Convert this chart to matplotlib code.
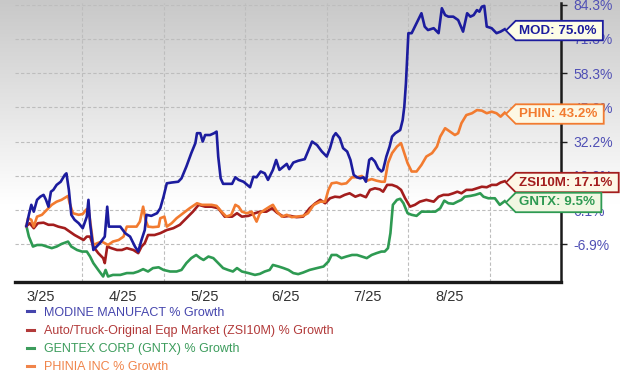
import numpy as np
import matplotlib
matplotlib.use('Agg')
import matplotlib.pyplot as plt
from matplotlib.path import Path
from matplotlib.lines import Line2D

plt.rcParams['font.family'] = ['Liberation Sans', 'DejaVu Sans']

# x is a month position: 4.0 = start of April 2025, 9.0 = start of September
mod_x = [3.32, 3.35, 3.38, 3.41, 3.45, 3.49, 3.53, 3.56, 3.59, 3.62,
         3.65, 3.69, 3.74, 3.79, 3.81, 3.84, 3.87, 3.91, 3.96, 4.01,
         4.06, 4.08, 4.10, 4.14, 4.18, 4.22, 4.28, 4.31, 4.33, 4.38,
         4.47, 4.53, 4.59, 4.65, 4.69, 4.73, 4.77, 4.79, 4.85, 4.92,
         4.96, 5.00, 5.04, 5.10, 5.18, 5.22, 5.28, 5.34, 5.39, 5.41,
         5.45, 5.48, 5.51, 5.57, 5.62, 5.65, 5.67, 5.70, 5.73, 5.84,
         5.88, 5.92, 5.98, 6.06, 6.10, 6.14, 6.19, 6.24, 6.28, 6.34,
         6.38, 6.42, 6.47, 6.51, 6.54, 6.59, 6.65, 6.73, 6.82, 6.88,
         6.94, 7.00, 7.04, 7.08, 7.11, 7.16, 7.20, 7.25, 7.29, 7.33,
         7.37, 7.41, 7.45, 7.48, 7.52, 7.55, 7.59, 7.63, 7.67, 7.69,
         7.73, 7.77, 7.80, 7.84, 7.90, 7.93, 7.95, 7.97, 8.00, 8.04,
         8.10, 8.16, 8.20, 8.24, 8.31, 8.37, 8.41, 8.45, 8.49, 8.55,
         8.61, 8.67, 8.72, 8.76, 8.80, 8.84, 8.87, 8.90, 8.93, 8.96,
         9.02, 9.08, 9.13, 9.18]
mod_y = [0.0, 4.3, 8.1, 5.5, 10.0, 11.2, 11.9, 10.0, 7.4, 13.1,
         13.8, 15.7, 16.9, 19.5, 20.1, 13.8, 4.3, 2.4, 1.1, -0.8,
         3.6, 10.0, 1.1, -9.1, -7.8, -6.5, -4.0, 7.4, -0.2, -0.2,
         -0.2, -2.7, -4.0, -7.8, -9.7, -5.3, -1.5, 4.3, 3.9, 4.9,
         6.8, 11.2, 16.3, 16.6, 16.9, 18.2, 22.7, 27.8, 31.6, 35.4,
         35.4, 32.2, 34.7, 34.7, 35.4, 36.0, 26.5, 18.2, 16.1, 16.1,
         18.6, 17.6, 16.9, 14.8, 18.8, 18.6, 20.8, 20.1, 17.6, 21.4,
         25.2, 21.4, 22.7, 23.7, 21.7, 24.2, 24.9, 25.5, 32.2, 30.9,
         28.4, 26.5, 29.7, 34.1, 35.4, 33.5, 29.7, 28.4, 25.2, 19.5,
         18.6, 18.2, 18.6, 16.9, 25.2, 25.9, 24.6, 22.0, 20.8, 21.4,
         26.5, 30.3, 34.1, 35.4, 36.6, 40.4, 45.5, 54.4, 73.5, 73.5,
         77.3, 81.1, 76.0, 74.7, 75.4, 73.5, 83.0, 80.4, 79.8, 79.8,
         78.5, 74.1, 81.1, 79.8, 80.4, 82.3, 81.7, 83.6, 83.9, 76.0,
         75.4, 73.5, 74.1, 75.0]

phin_x = [3.32, 3.34, 3.38, 3.41, 3.45, 3.51, 3.57, 3.63, 3.69, 3.75,
          3.83, 3.85, 3.89, 3.96, 4.01, 4.05, 4.08, 4.11, 4.14, 4.19,
          4.24, 4.28, 4.32, 4.38, 4.45, 4.51, 4.55, 4.61, 4.67, 4.71,
          4.75, 4.78, 4.81, 4.87, 4.94, 4.96, 5.01, 5.04, 5.10, 5.16,
          5.24, 5.32, 5.41, 5.47, 5.59, 5.65, 5.71, 5.77, 5.83, 5.88,
          5.92, 5.96, 6.02, 6.08, 6.14, 6.18, 6.24, 6.30, 6.34, 6.39,
          6.45, 6.51, 6.57, 6.63, 6.71, 6.77, 6.84, 6.92, 6.98, 7.02,
          7.06, 7.12, 7.18, 7.24, 7.31, 7.37, 7.43, 7.49, 7.55, 7.61,
          7.67, 7.71, 7.75, 7.80, 7.86, 7.91, 7.95, 7.99, 8.04, 8.10,
          8.16, 8.22, 8.29, 8.35, 8.39, 8.45, 8.51, 8.57, 8.61, 8.65,
          8.71, 8.78, 8.84, 8.90, 8.96, 9.02, 9.08, 9.13, 9.18]
phin_y = [0.0, 3.0, 2.4, -0.2, 3.6, 4.3, 6.2, 8.1, 9.3, 10.0,
          11.5, 8.7, 4.9, 4.3, 4.6, 6.2, 6.8, -0.2, -7.2, -6.5,
          -5.9, -6.5, -7.2, -5.9, -5.3, -4.0, -0.2, -0.2, -0.2, 1.7,
          7.4, 2.4, -0.2, -0.4, -0.2, 3.0, 3.6, -0.2, 1.1, 3.0,
          4.9, 6.8, 8.7, 8.1, 8.1, 7.7, 5.5, 3.6, 4.3, 8.1,
          7.4, 5.5, 4.9, 5.5, 1.7, 4.9, 6.2, 7.4, 8.1, 5.5,
          3.6, 4.3, 3.4, 3.6, 3.9, 4.9, 8.1, 9.3, 9.3, 13.8,
          16.3, 16.6, 16.0, 16.3, 18.6, 18.6, 19.1, 17.3, 17.9, 17.3,
          16.9, 16.9, 24.0, 27.8, 30.3, 31.6, 27.8, 24.0, 20.8, 20.8,
          23.3, 26.5, 27.8, 30.3, 34.1, 37.3, 36.0, 34.7, 35.4, 39.2,
          42.3, 43.0, 44.2, 44.0, 43.0, 43.6, 43.0, 41.7, 43.2]

zsi_x = [3.32, 3.36, 3.41, 3.46, 3.53, 3.59, 3.65, 3.71, 3.79, 3.85,
         3.91, 3.98, 4.02, 4.06, 4.10, 4.14, 4.20, 4.26, 4.28, 4.31,
         4.36, 4.43, 4.49, 4.55, 4.63, 4.69, 4.73, 4.77, 4.81, 4.89,
         4.96, 5.04, 5.12, 5.20, 5.28, 5.36, 5.43, 5.51, 5.59, 5.67,
         5.75, 5.84, 5.90, 5.96, 6.04, 6.12, 6.18, 6.26, 6.33, 6.39,
         6.47, 6.55, 6.63, 6.71, 6.79, 6.86, 6.92, 6.98, 7.04, 7.10,
         7.16, 7.22, 7.28, 7.35, 7.41, 7.48, 7.53, 7.59, 7.65, 7.69,
         7.74, 7.80, 7.86, 7.91, 7.96, 8.02, 8.08, 8.14, 8.22, 8.31,
         8.37, 8.43, 8.49, 8.55, 8.60, 8.65, 8.71, 8.78, 8.84, 8.90,
         8.96, 9.02, 9.08, 9.13, 9.18]
zsi_y = [0.0, 1.1, -0.8, 1.1, 1.3, 0.5, 0.5, -0.2, -0.8, -2.1,
         -3.4, -4.6, -5.3, -4.0, -4.0, -7.8, -10.3, -12.2, -14.1, -7.8,
         -8.4, -9.1, -9.1, -8.4, -9.1, -10.3, -7.8, -6.5, -3.4, -3.4,
         -2.7, -1.5, -0.8, 0.5, 3.0, 5.5, 8.1, 7.4, 7.4, 6.8,
         3.6, 3.6, 4.9, 3.6, 3.9, 4.9, 5.5, 5.5, 6.8, 5.1,
         3.6, 3.9, 3.4, 3.6, 6.8, 8.7, 10.0, 8.7, 10.6, 11.2,
         11.0, 11.9, 12.5, 11.2, 11.9, 11.0, 13.8, 14.4, 14.0, 13.1,
         15.7, 15.7, 15.0, 13.8, 10.6, 7.4, 8.1, 9.3, 10.0, 9.3,
         11.2, 11.9, 11.9, 12.5, 13.1, 12.5, 13.8, 13.8, 14.4, 15.0,
         14.8, 15.7, 15.7, 16.6, 17.1]

gntx_x = [3.32, 3.35, 3.40, 3.45, 3.51, 3.57, 3.63, 3.69, 3.75, 3.83,
          3.87, 3.94, 4.00, 4.06, 4.10, 4.14, 4.20, 4.26, 4.29, 4.32,
          4.38, 4.47, 4.55, 4.63, 4.69, 4.75, 4.81, 4.87, 4.94, 5.00,
          5.08, 5.16, 5.22, 5.28, 5.34, 5.40, 5.45, 5.49, 5.55, 5.61,
          5.67, 5.73, 5.79, 5.85, 5.90, 5.96, 6.04, 6.12, 6.18, 6.24,
          6.30, 6.34, 6.41, 6.47, 6.53, 6.59, 6.65, 6.71, 6.79, 6.88,
          6.96, 7.02, 7.06, 7.12, 7.18, 7.24, 7.31, 7.37, 7.43, 7.49,
          7.55, 7.61, 7.67, 7.71, 7.75, 7.78, 7.81, 7.86, 7.90, 7.94,
          7.99, 8.04, 8.10, 8.16, 8.24, 8.33, 8.39, 8.44, 8.49, 8.55,
          8.60, 8.65, 8.69, 8.76, 8.82, 8.88, 8.92, 8.98, 9.06, 9.12,
          9.18]
gntx_y = [0.0, -4.0, -7.8, -7.2, -7.2, -7.8, -8.4, -7.8, -6.8, -5.9,
          -7.8, -9.1, -9.7, -9.7, -11.6, -14.1, -16.7, -19.2, -16.7, -19.2,
          -18.6, -18.6, -17.9, -17.9, -17.3, -16.4, -17.3, -16.0, -15.7, -16.7,
          -17.3, -17.3, -16.7, -14.1, -12.2, -11.0, -12.2, -12.9, -11.6, -12.2,
          -14.1, -16.0, -16.7, -17.3, -16.0, -17.3, -17.9, -18.6, -18.2, -17.3,
          -16.7, -14.8, -15.4, -16.0, -16.7, -17.9, -18.3, -17.7, -16.7, -16.0,
          -15.4, -13.5, -11.0, -11.0, -12.2, -11.6, -11.0, -11.0, -11.6, -12.2,
          -11.0, -10.3, -9.7, -9.7, -8.4, -2.7, 8.1, 10.0, 10.4, 8.7,
          4.9, 4.3, 3.9, 5.5, 5.5, 5.5, 6.8, 9.7, 8.7, 8.5,
          9.3, 10.0, 11.2, 11.5, 11.9, 12.5, 11.2, 10.6, 10.6, 8.1,
          9.5]

y_ticks = [-6.9, 6.1, 19.2, 32.2, 45.2, 58.3, 71.3, 84.3]
month_edges = [4, 5, 6, 7, 8, 9]
month_mids = [3.5, 4.5, 5.5, 6.5, 7.5, 8.5]
month_labels = ['3/25', '4/25', '5/25', '6/25', '7/25', '8/25']

legend_labels = ['MODINE MANUFACT % Growth',
                 'Auto/Truck-Original Eqp Market (ZSI10M) % Growth',
                 'GENTEX CORP (GNTX) % Growth',
                 'PHINIA INC % Growth']
tags = ['MOD: 75.0%', 'ZSI10M: 17.1%', 'GNTX: 9.5%', 'PHIN: 43.2%']
last_vals = [75.0, 17.1, 9.5, 43.2]

c_mod, c_zsi, c_gntx, c_phin = '#1c1c9e', '#a31d1d', '#2e9a52', '#f27b30'
colors = [c_mod, c_zsi, c_gntx, c_phin]
legend_colors = ['#4545ad', '#b23a3a', '#3c9c5c', '#f0844a']
tag_fill = ['#fdfde6', '#fdf7e6', '#f1f7e2', '#fdf8e4']


def tag_box(x0, y0, width, height, mutation_size):
    # callout box with a pointed left edge
    pad = mutation_size * 0.28
    x0, y0 = x0 - pad, y0 - pad
    x1, y1 = x0 + width + 2.6 * pad, y0 + height + 2 * pad
    tip = (y1 - y0) / 2
    return Path([(x0, y0), (x1, y0), (x1, y1), (x0, y1),
                 (x0 - tip, (y0 + y1) / 2), (x0, y0)], closed=True)


fig = plt.figure(figsize=(6.2, 3.75), dpi=100)

# grey-to-white backdrop
bg = fig.add_axes([0, 0, 1, 1], zorder=-5)
grad = np.clip(np.linspace(0.785, 1.18, 256), 0, 1)
bg.imshow(np.repeat(grad[:, None, None], 3, axis=2),
          aspect='auto', extent=[0, 1, 0, 1], origin='upper')
bg.axis('off')

ax = fig.add_axes([15 / 620, 1 - 282 / 375, 546 / 620, 279 / 375])
ax.set_facecolor('none')

ax.plot(gntx_x, gntx_y, color=c_gntx, lw=1.9, zorder=3)
ax.plot(zsi_x, zsi_y, color=c_zsi, lw=1.9, zorder=3)
ax.plot(phin_x, phin_y, color=c_phin, lw=1.9, zorder=3)
ax.plot(mod_x, mod_y, color=c_mod, lw=1.9, zorder=4)

ax.set_xlim(3.18, 9.87)
ax.set_ylim(-21.3, 85.0)

ax.yaxis.tick_right()
ax.set_yticks(y_ticks)
ax.set_yticklabels([f'{v:.1f}%' for v in y_ticks])
ax.tick_params(axis='y', colors='#202020', labelcolor='#5050b5',
               labelsize=10, length=4, width=1, pad=5)

ax.set_xticks(month_edges)
ax.set_xticklabels([])
ax.set_xticks(month_mids, minor=True)
ax.set_xticklabels(month_labels, minor=True)
ax.tick_params(axis='x', which='both', length=0, labelcolor='#333333',
               labelsize=10.5, pad=6)

ax.grid(True, which='major', linestyle=(0, (3, 2)), color='#bdbdbd', lw=0.8)

for side in ['left', 'top']:
    ax.spines[side].set_visible(False)
ax.spines['bottom'].set_linewidth(2.4)
ax.spines['bottom'].set_color('#1a1a1a')
ax.spines['right'].set_linewidth(1.8)
ax.spines['right'].set_color('#1a1a1a')

for txt, v, col, fc in zip(tags, last_vals, colors, tag_fill):
    ax.text(9.36, v - 0.5, txt, color=col, fontsize=9.6, fontweight='bold',
            ha='left', va='center', zorder=10, clip_on=False,
            bbox=dict(boxstyle=tag_box, fc=fc, ec=col, lw=1.3))

handles = [Line2D([], [], color=c, lw=2.2) for c in legend_colors]
leg = fig.legend(handles, legend_labels, loc='upper left',
                 bbox_to_anchor=(0.044, 0.182), frameon=False, fontsize=9,
                 handlelength=0.55, handletextpad=0.75, labelspacing=0.5,
                 borderpad=0, borderaxespad=0)
for t, c in zip(leg.get_texts(), legend_colors):
    t.set_color(c)

fig.savefig('out.png', dpi=100)
